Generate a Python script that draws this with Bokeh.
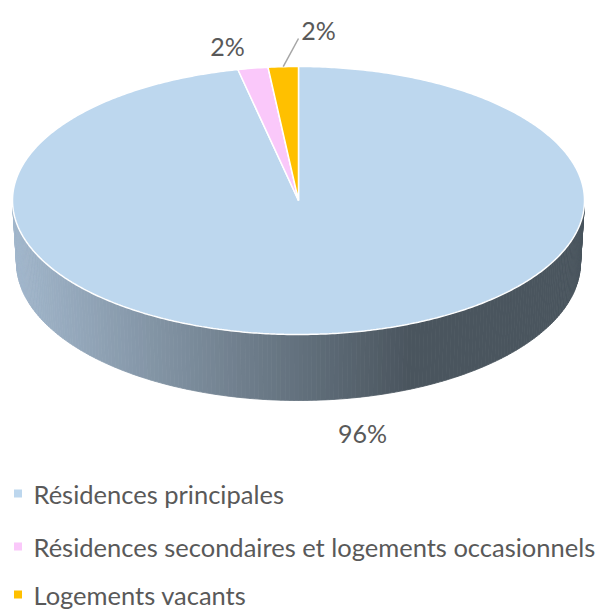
import numpy as np
from bokeh.plotting import figure
from bokeh.models import Range1d
from bokeh.core.properties import value
from bokeh.embed import file_html
from bokeh.resources import INLINE

# ---- data ----
categories = ["Résidences principales",
              "Résidences secondaires et logements occasionnels",
              "Logements vacants"]
shares = [96.6, 1.7, 1.7]
labels = ["96%", "2%", "2%"]
colors = ["#BDD7EE", "#FAC8FA", "#FFC000"]

W, H = 598, 610
p = figure(width=W, height=H, output_backend="svg", toolbar_location=None,
           x_range=Range1d(0, W), y_range=Range1d(H, 0),
           min_border=0)
p.axis.visible = False
p.grid.visible = False
p.outline_line_color = None
p.background_fill_color = "white"
p.border_fill_color = "white"

# geometry (page px)
cx, cy, rx, ry = 298, 200, 286, 134
bcx, bcy, brx, bry = 298, 262, 282, 138

def lerp_color(c1, c2, t):
    a = np.array([int(c1[i:i+2], 16) for i in (1, 3, 5)])
    b = np.array([int(c2[i:i+2], 16) for i in (1, 3, 5)])
    c = (a + (b - a) * t).round().astype(int)
    return "#%02x%02x%02x" % tuple(c)

# side strips (front half)
n = 200
phis = np.linspace(0, np.pi, n + 1)
xs, ys, cols = [], [], []
for i in range(n):
    f1, f2 = phis[i], phis[i + 1]
    px = [cx + rx * np.cos(f1), cx + rx * np.cos(f2),
          bcx + brx * np.cos(f2), bcx + brx * np.cos(f1)]
    py = [cy + ry * np.sin(f1), cy + ry * np.sin(f2),
          bcy + bry * np.sin(f2), bcy + bry * np.sin(f1)]
    xm = np.mean(px)
    t = np.clip((xm - 12) / (410 - 12), 0, 1)
    xs.append(px); ys.append(py)
    cols.append(lerp_color("#A2B7CC", "#4A555E", t))
p.patches(xs, ys, fill_color=cols, line_color=cols, line_width=0.8)

# top slices, clockwise from 12 o'clock
total = sum(shares)
start = 0.0
mids = []
for s, col in zip(shares, colors):
    a1 = start / total * 2 * np.pi
    a2 = (start + s) / total * 2 * np.pi
    th = np.linspace(a1, a2, max(4, int(s * 6)))
    px = [cx] + list(cx + rx * np.sin(th))
    py = [cy] + list(cy - ry * np.cos(th))
    p.patch(px, py, fill_color=col, line_color="white", line_width=1.5)
    mids.append((a1 + a2) / 2)
    start += s

# data labels
font = value("Lato")
tcol = "#595959"
lab_pos = [(362, 432), (227, 45), (318, 29)]
for (lx, ly), lab in zip(lab_pos, labels):
    p.text([lx], [ly], text=[lab], text_font=font, text_font_size="25px",
           text_color=tcol, text_align="center", text_baseline="middle")

# leader line for last slice
m = mids[2]
ex, ey = cx + rx * np.sin(m), cy - ry * np.cos(m)
p.line([ex, 298], [ey, 38], line_color="#A6A6A6", line_width=1.5)

# legend
leg_y = [493, 546, 594]
for yy, cat, col in zip(leg_y, categories, colors):
    p.rect([17.5], [yy], width=8, height=8, fill_color=col, line_color=None)
    p.text([33], [yy], text=[cat], text_font=font, text_font_size="25.5px",
           text_color=tcol, text_align="left", text_baseline="middle")

open("out.html", "w").write(file_html(p, INLINE))
